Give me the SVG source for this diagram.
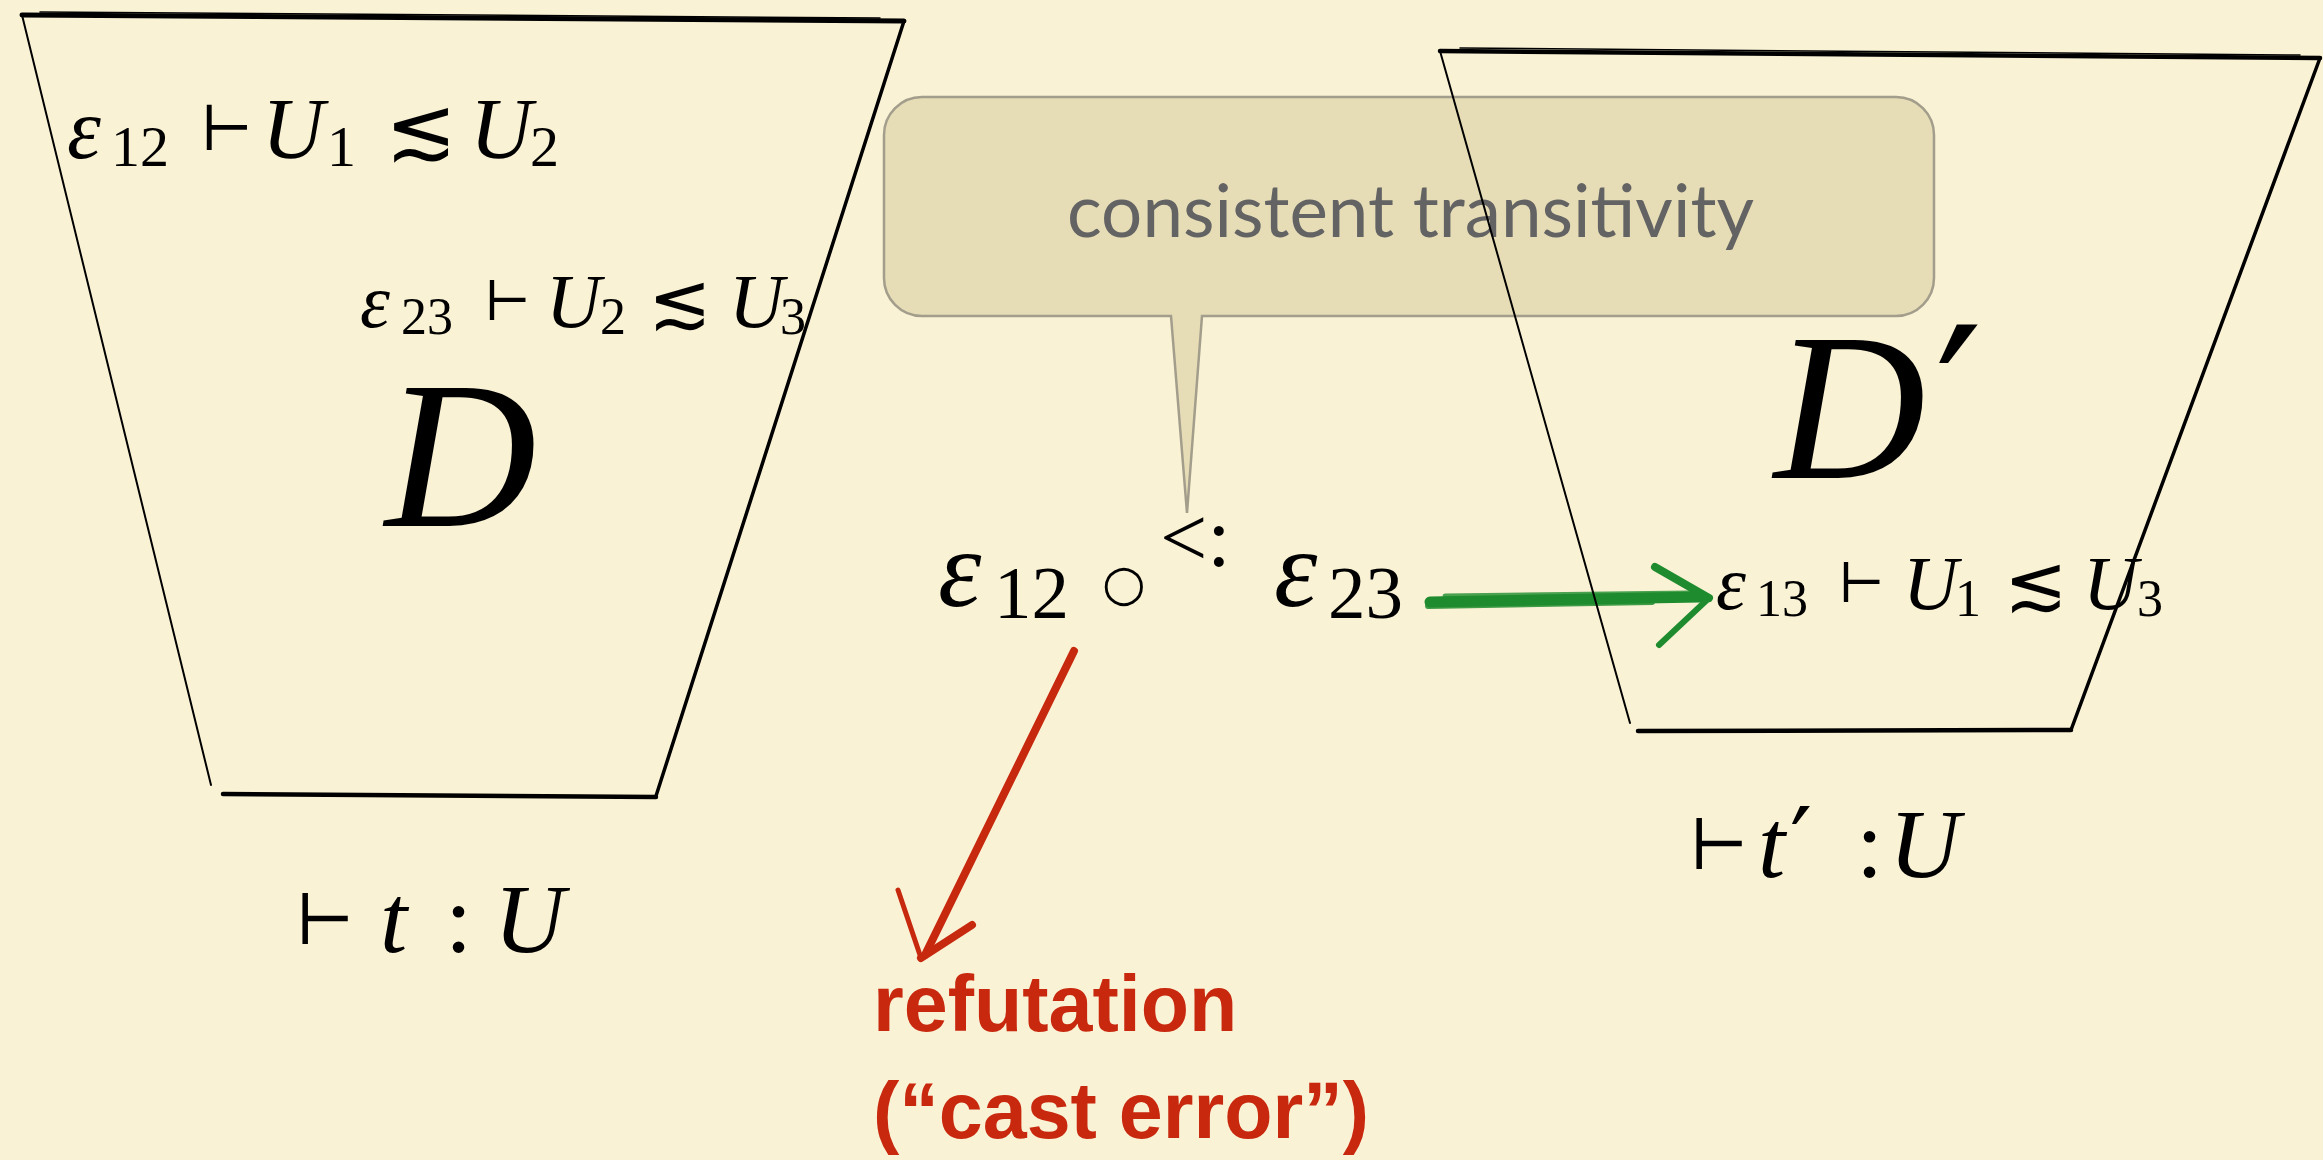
<svg xmlns="http://www.w3.org/2000/svg" width="2323" height="1160" viewBox="0 0 2323 1160">
<style>
.math{font-family:"Liberation Serif","DejaVu Serif",serif;fill:#000}
.it{font-style:italic}
.sym{font-family:"DejaVu Serif","Liberation Serif",serif}
.edge{stroke:#000;stroke-linecap:round;fill:none}
.red{font-family:"Liberation Sans",Arial,sans-serif;font-weight:bold;fill:#c8280e}
.green{stroke:#1e8c2e;stroke-linecap:round;fill:none}
.redl{stroke:#c7290f;stroke-linecap:round;fill:none}
</style>
<rect width="2323" height="1160" fill="#faf2d5"/>

<g id="callout">
<path d="M922,97 H1896 A38,38 0 0 1 1934,135 V278 A38,38 0 0 1 1896,316 H1202 L1187,513 L1171,316 H922 A38,38 0 0 1 884,278 V135 A38,38 0 0 1 922,97 Z" fill="#e6ddb7" stroke="#a39d8b" stroke-width="2.5"/>
<text x="1067" y="237" font-family="Lato,'Open Sans',sans-serif" font-size="74" fill="#636363" textLength="687" lengthAdjust="spacingAndGlyphs">consistent transitivity</text>
</g>

<g id="connectors">
<g id="arrow-green">
<path class="green" d="M1430,602 L1700,597" stroke-width="11"/>
<path class="green" d="M1428,606 L1652,602" stroke-width="6" opacity="0.85"/>
<path class="green" d="M1445,596 L1690,593" stroke-width="5" opacity="0.8"/>
<path class="green" d="M1655,567 L1709,598" stroke-width="8"/>
<path class="green" d="M1709,598 L1659,645" stroke-width="6"/>
</g>
<g id="arrow-red">
<path class="redl" d="M1074,651 L925,955" stroke-width="8"/>
<path class="redl" d="M1068,660 L930,945" stroke-width="4" opacity="0.8"/>
<path class="redl" d="M898,890 L921,958" stroke-width="5"/>
<path class="redl" d="M921,958 L972,925" stroke-width="8"/>
</g>
</g>

<g id="node-D">
<g id="trapezoid-D">
<path class="edge" d="M22,15 L904,21" stroke-width="5"/>
<path class="edge" d="M40,12 L880,18" stroke-width="1.5"/>
<path class="edge" d="M904,21 L656,796" stroke-width="3.5"/>
<path class="edge" d="M223,794 L656,797" stroke-width="4.5"/>
<path class="edge" d="M22,15 L211,785" stroke-width="2"/>
</g>
<text class="math" y="158" font-size="86"><tspan class="it" x="67">ε</tspan><tspan x="111" y="166" font-size="58">12</tspan><tspan class="sym" x="200" y="150" font-size="62">⊢</tspan><tspan class="it" x="262" y="158">U</tspan><tspan x="327" y="166" font-size="58">1</tspan><tspan class="sym" x="385" y="158">≲</tspan><tspan class="it" x="470">U</tspan><tspan x="530" y="166" font-size="58">2</tspan></text>
<text class="math" y="327" font-size="76"><tspan class="it" x="360">ε</tspan><tspan x="401" y="334" font-size="52">23</tspan><tspan class="sym" x="484" y="320" font-size="55">⊢</tspan><tspan class="it" x="546" y="327">U</tspan><tspan x="600" y="334" font-size="52">2</tspan><tspan class="sym" x="648" y="327">≲</tspan><tspan class="it" x="729">U</tspan><tspan x="780" y="334" font-size="52">3</tspan></text>
<text class="math it" x="385" y="526" font-size="210">D</text>
</g>

<g id="node-Dprime">
<g id="trapezoid-Dprime">
<path class="edge" d="M1440,51 L2320,58" stroke-width="4.5"/>
<path class="edge" d="M1460,48 L2300,55" stroke-width="1.5"/>
<path class="edge" d="M2320,58 L2071,730" stroke-width="3.5"/>
<path class="edge" d="M1638,731 L2071,730" stroke-width="4.5"/>
<path class="edge" d="M1440,51 L1630,723" stroke-width="2"/>
</g>
<text class="math it" x="1774" y="478" font-size="210">D</text>
<text class="math sym" x="1935" y="478" font-size="210">′</text>
<text class="math" y="609" font-size="76"><tspan class="it" x="1716">ε</tspan><tspan x="1756" y="616" font-size="52">13</tspan><tspan class="sym" x="1838" y="602" font-size="55">⊢</tspan><tspan class="it" x="1903" y="609">U</tspan><tspan x="1955" y="616" font-size="52">1</tspan><tspan class="sym" x="2004" y="609">≲</tspan><tspan class="it" x="2083">U</tspan><tspan x="2137" y="616" font-size="52">3</tspan></text>
</g>

<g id="node-composition">
<text class="math" y="606" font-size="110"><tspan class="it" x="938">ε</tspan><tspan x="994" y="618" font-size="75">12</tspan><tspan font-family="'DejaVu Sans',sans-serif" x="1102" y="600" font-size="50">○</tspan><tspan x="1160" y="566" font-size="84">&lt;:</tspan><tspan class="it" x="1274" y="606">ε</tspan><tspan x="1328" y="618" font-size="75">23</tspan></text>
</g>

<g id="node-t">
<text class="math" y="952" font-size="98"><tspan class="sym" x="295" y="944" font-size="70">⊢</tspan><tspan class="it" x="380" y="952">t</tspan><tspan x="445">:</tspan><tspan class="it" x="494">U</tspan></text>
</g>

<g id="node-tprime">
<text class="math" y="877" font-size="98"><tspan class="sym" x="1689" y="869" font-size="70">⊢</tspan><tspan class="it" x="1758" y="877">t</tspan><tspan class="sym" x="1790">′</tspan><tspan x="1856">:</tspan><tspan class="it" x="1889">U</tspan></text>
</g>

<g id="node-refutation">
<text class="red" x="873" y="1031" font-size="79">refutation</text>
<text class="red" x="873" y="1138" font-size="79">(“cast error”)</text>
</g>
</svg>
